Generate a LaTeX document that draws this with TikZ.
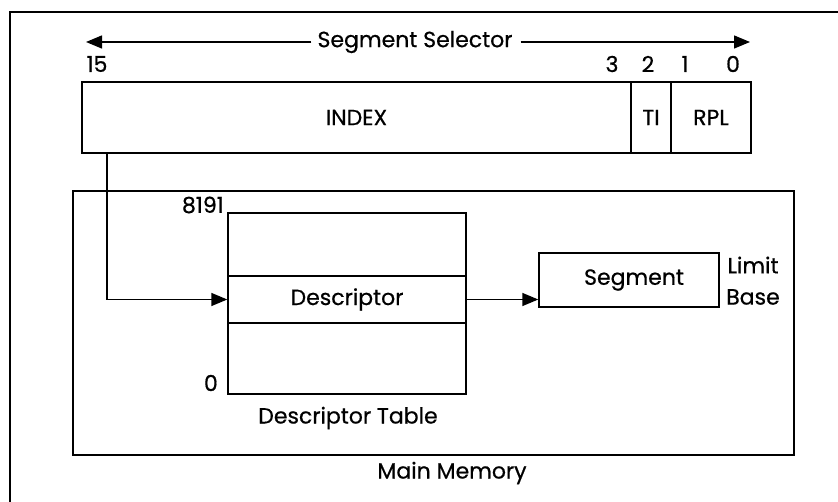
\documentclass[tikz,border=0pt]{standalone}
\usepackage{fontspec}
\setmainfont{Poppins}[UprightFeatures={FakeBold=0.6}]
\usetikzlibrary{arrows.meta,calc}
\begin{document}
\begin{tikzpicture}[x=1pt,y=-1pt,
  every node/.style={font=\fontsize{22}{24}\selectfont, inner sep=0pt},
  box/.style={draw, line width=1.4pt, minimum width=#1, anchor=center},
  arr/.style={line width=1.4pt, -{Triangle[length=16pt,width=13pt]}},
  thin/.style={line width=1.2pt}]
\useasboundingbox (0,0) rectangle (838,502);
% outer frame
\draw[thin] (10,502) -- (10,12) -- (838,12);
% selector arrow
\node (sel) at (415,42) {Segment Selector};
\coordinate (selL) at (86,42);
\coordinate (selR) at (750,42);
\draw[arr] ([xshift=-6pt]sel.west) -- (selL);
\draw[arr] ([xshift=8pt]sel.east) -- (selR);
% bit numbers
\node (b15) at (97,64) {15};
\node (b3) at (612,64) {3};
\node (b2) at (648,64) {2};
\node (b1) at (685,64) {1};
\node (b0) at (733,64) {0};
% selector fields
\node[box=549pt, minimum height=71pt, line width=2pt] (index) at (356.5,117.5) {INDEX};
\node[box=40pt, minimum height=71pt, line width=2pt] (ti) at (651,117.5) {TI};
\node[box=80pt, minimum height=71pt, line width=2pt] (rpl) at (711,117.5) {RPL};
% main memory
\node[box=721pt, minimum height=264pt] (mem) at (433.5,323) {};
\node (memlbl) at (452,473) {Main Memory};
% descriptor table
\node[box=238pt, minimum height=63pt] (dtop) at (347,244.5) {};
\node[box=238pt, minimum height=47pt] (desc) at (347,299.5) {Descriptor};
\node[box=238pt, minimum height=71pt] (dbot) at (347,358.5) {};
\node[anchor=east] (n8191) at (224,205) {8191};
\node[anchor=east] (n0) at (218,383) {0};
\node (dtlbl) at (348,418) {Descriptor Table};
% segment
\node[box=180pt, minimum height=54pt] (seg) at (629,280) {\hspace*{10pt}Segment};
\node (limit) at (753,265) {Limit};
\node (base) at (753,297) {Base};
% connectors
\coordinate (tap) at ($(index.south west)+(26,0)$);
\draw[arr] (tap) |- (desc.west);
\draw[arr] (desc.east) -- (desc.east -| seg.west);
\end{tikzpicture}
\end{document}
